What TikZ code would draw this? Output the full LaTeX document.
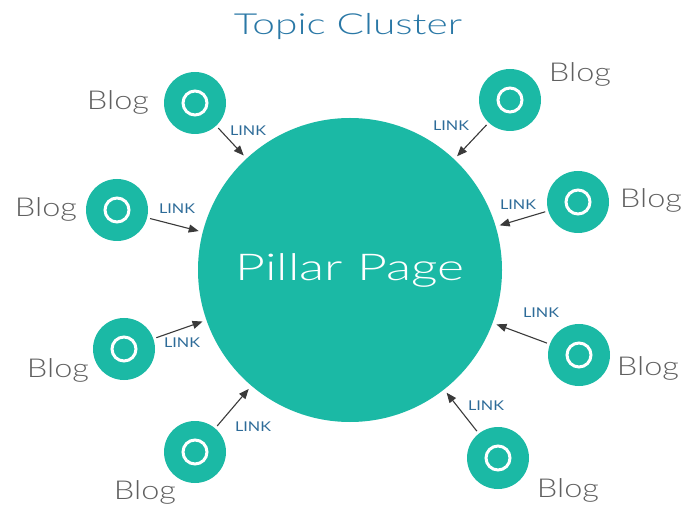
\documentclass[tikz,border=0pt]{standalone}
\usepackage{fontspec}
\setmainfont{Lato}
\newfontfamily\widefont[FakeStretch=1.4]{Lato Light}
\newfontfamily\blogfont[FakeStretch=1.25]{Lato Light}
\newfontfamily\linkfont[FakeStretch=1.2]{Lato}
\usetikzlibrary{arrows.meta}
\definecolor{teal}{HTML}{1BB9A5}
\definecolor{titleblue}{HTML}{2A78A6}
\definecolor{linkblue}{HTML}{2D6B98}
\definecolor{blogtext}{HTML}{606060}
\definecolor{arrowink}{HTML}{3A3A3A}

\begin{document}
\begin{tikzpicture}[x=1pt,y=-1pt,
  pillar/.style={circle, fill=teal, minimum size=304pt, inner sep=0pt,
                 text=white, font=\widefont\fontsize{37}{37}\selectfont},
  blog/.style={circle, fill=teal, minimum size=62pt, inner sep=0pt},
  ring/.style={draw=white, line width=3pt},
  blogname/.style={text=blogtext, font=\blogfont\fontsize{26}{26}\selectfont},
  linklabel/.style={text=linkblue, font=\linkfont\fontsize{13.5}{13.5}\selectfont},
  linkto/.style={-{Triangle[length=10pt,width=8pt]}, line width=1.1pt, draw=arrowink,
                 shorten <=3pt, shorten >=4pt}]

\path[use as bounding box] (0,0) rectangle (685,510);

\node[text=titleblue, font=\widefont\fontsize{29}{29}\selectfont] (title) at (348,27) {Topic Cluster};

\node[pillar] (pillar) at (350,270) {Pillar Page};

% blogs: center / name position / LINK position
\foreach \i/\bx/\by/\nx/\ny/\lx/\ly in {
    1/195/103/118/102/248/131,
    2/510/100/580/74/451/126,
    3/117/210/46/209/177/209,
    4/578/202/651/200/518/205,
    5/124/349/58/370/182/343,
    6/579/355/648/368/541/313,
    7/195/452/145/492/253/427,
    8/498/458/568/490/486/406} {
  \node[blog] (blog\i) at (\bx,\by) {};
  \draw[ring] (blog\i.center) circle (12pt);
  \node[blogname] (blogname\i) at (\nx,\ny) {Blog};
  \node[linklabel] (link\i) at (\lx,\ly) {LINK};
  \draw[linkto] (blog\i) -- (pillar);
}
\end{tikzpicture}
\end{document}
